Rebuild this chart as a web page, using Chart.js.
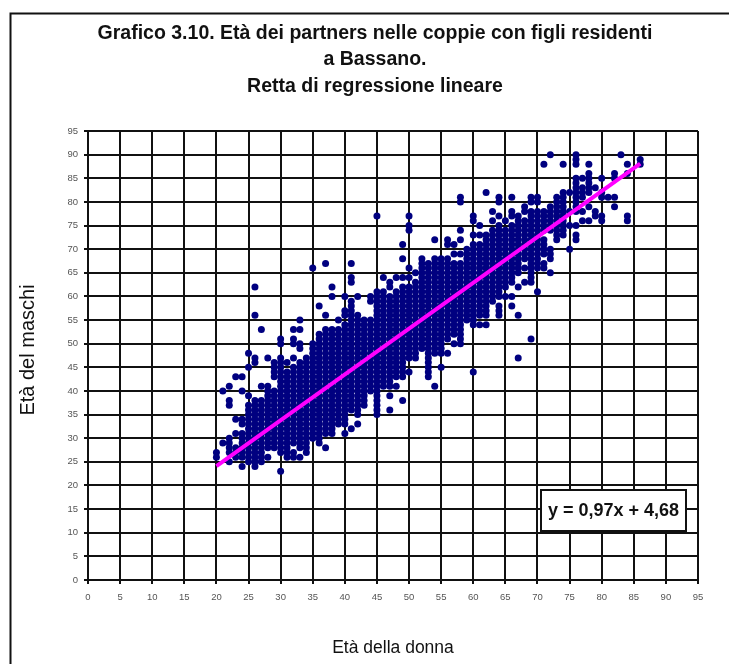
<!DOCTYPE html>
<html lang="it">
<head>
    <meta charset="UTF-8">
    <title>Grafico 3.10</title>
    <style>
        body { margin: 0; padding: 0; background: #fff; }
        canvas { display: block; }
    </style>
    <script src="https://cdn.jsdelivr.net/npm/chart.js"></script>
</head>
<body>
    <canvas id="myChart" width="729" height="664"></canvas>
    <script>
        const titleLines = ['Grafico 3.10. Età dei partners nelle coppie con figli residenti', 'a Bassano.', 'Retta di regressione lineare'];
        const xTitle = 'Età della donna';
        const yTitle = 'Età del maschi';
        const equation = 'y = 0,97x + 4,68';

        // age of the woman, one entry per column of dots
        const womanAges = [20, 21, 22, 23, 24, 25, 26, 27, 28, 29, 30, 31, 32, 33, 34, 35, 36, 37, 38, 39, 40, 41, 42,
            43, 44, 45, 46, 47, 48, 49, 50, 51, 52, 53, 54, 55, 56, 57, 58, 59, 60, 61, 62, 63, 64, 65, 66, 67, 68, 69,
            70, 71, 72, 73, 74, 75, 76, 77, 78, 79, 80, 81, 82, 83, 84, 86];

        // ages of the men read for each column above
        const manAges = [
            [27, 26],
            [40, 29],
            [41, 38, 37, 30, 29, 28, 27, 25],
            [43, 34, 31, 28, 27, 26],
            [43, 40, 34, 33, 31, 30, 29, 28, 27, 26, 24],
            [48, 45, 39, 37, 36, 35, 34, 33, 32, 31, 30, 29, 28, 27, 26, 25],
            [62, 56, 47, 46, 38, 37, 36, 35, 34, 33, 32, 31, 30, 29, 28, 27, 26, 25, 24],
            [53, 41, 38, 37, 36, 35, 34, 33, 32, 31, 30, 29, 28, 27, 26, 25],
            [47, 41, 40, 39, 38, 37, 36, 35, 34, 33, 32, 31, 30, 29, 28, 26],
            [46, 45, 44, 43, 40, 39, 38, 37, 36, 35, 34, 33, 32, 31, 30, 29, 28],
            [51, 50, 47, 46, 45, 44, 43, 42, 41, 40, 39, 38, 37, 36, 35, 34, 33, 32, 31, 30, 29, 28, 27, 23],
            [46, 44, 43, 42, 41, 40, 39, 38, 37, 36, 35, 34, 33, 32, 31, 30, 29, 28, 27, 26],
            [53, 51, 50, 47, 45, 44, 43, 42, 41, 40, 39, 38, 37, 36, 35, 34, 33, 32, 31, 30, 29, 27, 26],
            [55, 53, 50, 49, 46, 45, 44, 43, 42, 41, 40, 39, 38, 37, 36, 35, 34, 33, 32, 31, 30, 29, 28, 26],
            [47, 46, 45, 44, 43, 42, 41, 40, 39, 38, 37, 36, 35, 34, 33, 32, 31, 30, 29, 28, 27],
            [66, 50, 49, 48, 47, 46, 45, 44, 43, 42, 41, 40, 39, 38, 37, 36, 35, 34, 33, 32, 31, 30],
            [58, 52, 51, 50, 49, 48, 47, 46, 45, 44, 43, 42, 41, 40, 39, 38, 37, 36, 35, 34, 33, 32, 31, 30, 29],
            [67, 56, 53, 52, 51, 50, 49, 48, 47, 46, 45, 44, 43, 42, 41, 40, 39, 38, 37, 36, 35, 34, 33, 32, 31, 28],
            [62, 60, 53, 52, 51, 50, 49, 48, 47, 46, 45, 44, 43, 42, 41, 40, 39, 38, 37, 36, 35, 34, 33, 32, 31],
            [55, 53, 52, 51, 50, 49, 48, 47, 46, 45, 44, 43, 42, 41, 40, 39, 38, 37, 36, 35, 34, 33],
            [60, 57, 56, 54, 53, 52, 51, 50, 49, 48, 47, 46, 45, 44, 43, 42, 41, 40, 39, 38, 37, 36, 35, 34, 33, 31],
            [67, 64, 63, 59, 58, 57, 56, 55, 54, 53, 52, 51, 50, 49, 48, 47, 46, 45, 44, 43, 42, 41, 40, 39, 38, 37, 36, 32],
            [60, 56, 55, 54, 53, 52, 51, 50, 49, 48, 47, 46, 45, 44, 43, 42, 41, 40, 39, 38, 37, 36, 35, 33],
            [55, 54, 53, 52, 51, 50, 49, 48, 47, 46, 45, 44, 43, 42, 41, 40, 39, 38, 37],
            [60, 59, 55, 54, 53, 52, 51, 50, 49, 48, 47, 46, 45, 44, 43, 42, 41, 40],
            [77, 61, 60, 59, 58, 57, 56, 55, 54, 53, 52, 51, 50, 49, 48, 47, 46, 45, 44, 43, 42, 41, 40, 39, 38, 37, 36, 35],
            [64, 61, 60, 59, 58, 57, 56, 55, 54, 53, 52, 51, 50, 49, 48, 47, 46, 45, 44, 43, 42, 41],
            [63, 62, 60, 59, 58, 57, 56, 55, 54, 53, 52, 51, 50, 49, 48, 47, 46, 45, 44, 43, 42, 41, 39, 36],
            [64, 61, 60, 59, 58, 57, 56, 55, 54, 53, 52, 51, 50, 49, 48, 47, 46, 45, 44, 43, 41],
            [71, 68, 64, 62, 61, 60, 59, 58, 57, 56, 55, 54, 53, 52, 51, 50, 49, 48, 47, 46, 45, 44, 43, 38],
            [77, 75, 74, 66, 64, 62, 61, 60, 59, 58, 57, 56, 55, 54, 53, 52, 51, 50, 49, 48, 47, 44],
            [65, 63, 62, 61, 60, 59, 58, 57, 56, 55, 54, 53, 52, 51, 50, 49, 48, 47],
            [68, 67, 66, 65, 64, 63, 62, 61, 60, 59, 58, 57, 56, 55, 54, 53, 52, 51, 50, 49],
            [67, 66, 65, 64, 63, 62, 61, 60, 59, 58, 57, 56, 55, 54, 53, 52, 51, 50, 49, 48, 47, 46, 45, 44, 43],
            [72, 68, 67, 66, 65, 64, 63, 62, 61, 60, 59, 58, 57, 56, 55, 54, 53, 52, 51, 50, 49, 48, 41],
            [68, 67, 66, 65, 64, 63, 62, 61, 60, 59, 58, 57, 56, 55, 54, 53, 52, 51, 50, 49, 48, 45],
            [72, 71, 68, 67, 66, 65, 64, 63, 62, 61, 60, 59, 58, 57, 56, 55, 54, 53, 52, 51, 48],
            [71, 69, 67, 66, 65, 64, 63, 62, 61, 60, 59, 58, 57, 56, 55, 54, 53, 52, 50],
            [81, 80, 74, 72, 69, 67, 66, 65, 64, 63, 62, 61, 60, 59, 58, 57, 56, 55, 54, 53, 52, 51, 50],
            [70, 69, 68, 67, 66, 65, 64, 63, 62, 61, 60, 59, 58, 57, 56, 55],
            [77, 76, 73, 71, 70, 69, 68, 67, 66, 65, 64, 63, 62, 61, 60, 59, 58, 57, 56, 55, 54, 44],
            [75, 73, 71, 70, 69, 68, 67, 66, 65, 64, 63, 62, 61, 60, 59, 58, 57, 56, 54],
            [82, 73, 72, 71, 70, 69, 68, 67, 66, 65, 64, 63, 62, 61, 60, 59, 58, 57, 56, 54],
            [78, 76, 74, 73, 72, 71, 70, 69, 68, 67, 66, 65, 64, 63, 62, 61, 60, 59],
            [81, 80, 77, 75, 74, 73, 72, 71, 70, 69, 68, 67, 66, 65, 64, 63, 62, 61, 60, 58, 57, 56],
            [76, 74, 73, 72, 71, 70, 69, 68, 67, 66, 65, 64, 63, 62, 60],
            [81, 78, 77, 75, 74, 73, 72, 71, 70, 69, 68, 67, 66, 65, 64, 63, 60, 58],
            [77, 76, 75, 74, 73, 72, 71, 70, 69, 68, 67, 66, 65, 62, 56, 47],
            [79, 78, 76, 75, 74, 73, 72, 71, 70, 69, 68, 66, 63],
            [81, 80, 78, 77, 76, 75, 74, 73, 72, 71, 70, 69, 68, 67, 66, 65, 64, 63, 51],
            [81, 80, 78, 77, 76, 75, 74, 73, 72, 71, 70, 69, 68, 67, 66, 61],
            [88, 78, 77, 76, 75, 74, 72, 71, 70, 69, 67, 66],
            [90, 79, 78, 77, 76, 75, 74, 70, 69, 68, 65],
            [81, 80, 79, 78, 77, 76, 75, 74, 73, 72],
            [88, 82, 81, 80, 79, 78, 77, 76, 75, 74, 73],
            [82, 78, 75, 70],
            [90, 89, 88, 85, 84, 83, 82, 81, 80, 79, 78, 75, 73, 72],
            [85, 83, 82, 81, 78, 76],
            [88, 86, 85, 84, 83, 82, 79, 76],
            [83, 78, 77],
            [85, 82, 81, 77, 76],
            [81],
            [86, 85, 81, 79],
            [90],
            [88, 86, 77, 76],
            [89, 88]
        ];

        // end points of the regression line
        const lineX = [20, 86];
        const lineY = [24.08, 88.1];

        const scatterData = womanAges.flatMap((age, i) => manAges[i].map(man => ({ x: age, y: man })));
        const lineData = lineX.map((x, i) => ({ x: x, y: lineY[i] }));

        // frame, rotated y title and the equation box
        const extras = {
            id: 'extras',
            beforeDraw(chart) {
                const c = chart.ctx;
                c.save();
                c.strokeStyle = '#111';
                c.lineWidth = 2;
                c.beginPath();
                c.moveTo(10.5, 664);
                c.lineTo(10.5, 13.5);
                c.lineTo(729, 13.5);
                c.stroke();
                c.restore();
            },
            afterDraw(chart) {
                const c = chart.ctx;
                c.save();
                c.fillStyle = '#111';
                c.font = '20px "Liberation Sans", Arial, sans-serif';
                c.textAlign = 'center';
                c.textBaseline = 'middle';
                c.translate(28, 350);
                c.rotate(-Math.PI / 2);
                c.fillText(yTitle, 0, 0);
                c.restore();

                c.save();
                c.fillStyle = '#fff';
                c.strokeStyle = '#111';
                c.lineWidth = 2;
                c.fillRect(541, 490, 145, 41);
                c.strokeRect(541, 490, 145, 41);
                c.fillStyle = '#111';
                c.font = 'bold 18px "Liberation Sans", Arial, sans-serif';
                c.textAlign = 'center';
                c.textBaseline = 'middle';
                c.fillText(equation, 613.5, 511);
                c.restore();
            }
        };

        new Chart(document.getElementById('myChart').getContext('2d'), {
            type: 'scatter',
            data: {
                datasets: [
                    {
                        label: 'Retta',
                        data: lineData,
                        showLine: true,
                        borderColor: '#ff00ff',
                        borderWidth: 4,
                        pointRadius: 0,
                        order: 1
                    },
                    {
                        label: 'Coppie',
                        data: scatterData,
                        backgroundColor: '#000080',
                        borderColor: '#000080',
                        borderWidth: 0,
                        pointRadius: 3.5,
                        order: 2
                    }
                ]
            },
            options: {
                responsive: false,
                animation: false,
                layout: { padding: { left: 52, right: 31, top: 0, bottom: 0 } },
                plugins: {
                    legend: { display: false },
                    tooltip: { enabled: false },
                    title: {
                        display: true,
                        text: titleLines,
                        color: '#111',
                        font: { family: '"Liberation Sans", Arial, sans-serif', size: 19.5, weight: 'bold', lineHeight: 1.36 },
                        padding: { top: 20, bottom: 31.5 }
                    }
                },
                scales: {
                    x: {
                        type: 'linear',
                        min: 0,
                        max: 95,
                        afterFit(scale) { scale.height = 84; },
                        grid: { color: '#111', lineWidth: 2, tickLength: 4, tickColor: '#111' },
                        border: { color: '#111', width: 2 },
                        ticks: {
                            stepSize: 5,
                            autoSkip: false,
                            maxRotation: 0,
                            padding: 8,
                            color: '#555',
                            font: { family: '"Liberation Sans", Arial, sans-serif', size: 9.5 }
                        },
                        title: {
                            display: true,
                            text: xTitle,
                            color: '#111',
                            font: { family: '"Liberation Sans", Arial, sans-serif', size: 17.5 },
                            padding: { top: 22, bottom: 5 }
                        }
                    },
                    y: {
                        type: 'linear',
                        min: 0,
                        max: 95,
                        afterFit(scale) { scale.width = 36; },
                        grid: { color: '#111', lineWidth: 2, tickLength: 4, tickColor: '#111' },
                        border: { color: '#111', width: 2 },
                        ticks: {
                            stepSize: 5,
                            autoSkip: false,
                            padding: 6,
                            color: '#555',
                            font: { family: '"Liberation Sans", Arial, sans-serif', size: 9.5 }
                        }
                    }
                }
            },
            plugins: [extras]
        });
    </script>
</body>
</html>
